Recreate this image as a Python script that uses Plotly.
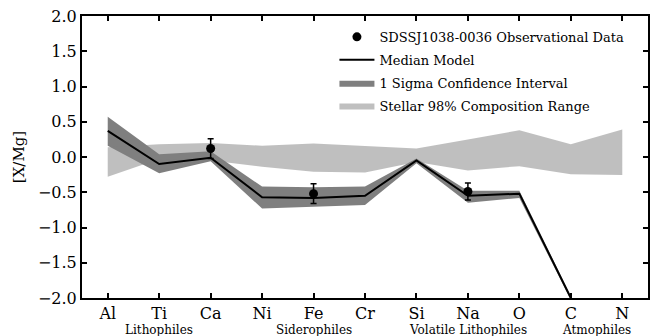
import plotly.graph_objects as go

elements = ["Al", "Ti", "Ca", "Ni", "Fe", "Cr", "Si", "Na", "O", "C", "N"]
groups = ["Lithophiles", "Siderophiles", "Volatile Lithophiles", "Atmophiles"]
group_pos = [1, 4, 7, 9.5]

median = [0.37, -0.10, -0.01, -0.57, -0.58, -0.55, -0.05, -0.55, -0.52, -2.0, None]
sig_hi = [0.57, 0.04, 0.08, -0.42, -0.43, -0.42, -0.02, -0.48, -0.48, -1.97]
sig_lo = [0.16, -0.23, -0.06, -0.73, -0.70, -0.68, -0.09, -0.65, -0.58, -2.03]
star_hi = [0.14, 0.18, 0.20, 0.16, 0.19, 0.16, 0.12, 0.25, 0.38, 0.18, 0.39]
star_lo = [-0.28, -0.03, -0.05, -0.14, -0.21, -0.22, -0.07, -0.19, -0.13, -0.245, -0.255]

obs_el = ["Ca", "Fe", "Na"]
obs_val = [0.12, -0.52, -0.49]
obs_err = [0.14, 0.14, 0.12]

FONT = "DejaVu Serif"
xi = list(range(len(elements)))
xs = xi[:len(sig_hi)]
obs_x = [elements.index(e) for e in obs_el]

fig = go.Figure()
fig.add_trace(go.Scatter(
    x=xs + xs[::-1], y=sig_hi + sig_lo[::-1], fill="toself", mode="lines",
    line=dict(width=0), fillcolor="rgba(0,0,0,0.5)", name="1 Sigma Confidence Interval",
    legendrank=3, legendgroup="c", hoverinfo="skip"))
fig.add_trace(go.Scatter(
    x=xi + xi[::-1], y=star_hi + star_lo[::-1], fill="toself", mode="lines",
    line=dict(width=0), fillcolor="rgba(128,128,128,0.5)", name="Stellar 98% Composition Range",
    legendrank=4, legendgroup="d", hoverinfo="skip"))
fig.add_trace(go.Scatter(
    x=xi, y=median, mode="lines", line=dict(color="black", width=2),
    name="Median Model", legendrank=2, legendgroup="b"))
fig.add_trace(go.Scatter(
    x=obs_x, y=obs_val, mode="markers", marker=dict(color="black", size=9),
    error_y=dict(type="data", array=obs_err, color="black", thickness=1.5, width=3),
    name="SDSSJ1038-0036 Observational Data", legendrank=1, legendgroup="a"))

for g, p in zip(groups, group_pos):
    fig.add_annotation(x=p, y=0, xref="x", yref="paper", yanchor="top", yshift=-23,
                       text=g, showarrow=False, font=dict(family=FONT, size=12, color="black"))

axis_common = dict(showline=True, linecolor="black", linewidth=2, mirror="ticks",
                   ticks="inside", ticklen=5, tickwidth=1.5, tickcolor="black",
                   showgrid=False, zeroline=False,
                   tickfont=dict(family=FONT, size=16, color="black"))
fig.update_xaxes(range=[-0.5, 10.5], tickmode="array", tickvals=xi, ticktext=elements, **axis_common)
fig.update_yaxes(range=[-2.0, 2.0], tickmode="array",
                 tickvals=[-2, -1.5, -1, -0.5, 0, 0.5, 1, 1.5, 2],
                 ticktext=["\u22122.0", "\u22121.5", "\u22121.0", "\u22120.5", "0.0", "0.5", "1.0", "1.5", "2.0"],
                 title=dict(text="[X/Mg]", font=dict(family=FONT, size=15, color="black"), standoff=10),
                 **axis_common)

fig.update_layout(
    width=657, height=336, margin=dict(l=82, r=7, t=16, b=38),
    plot_bgcolor="white", paper_bgcolor="white",
    font=dict(family=FONT, color="black"),
    legend=dict(x=0.446, y=0.979, xanchor="left", yanchor="top", bgcolor="rgba(0,0,0,0)",
                font=dict(family=FONT, size=13, color="black"), tracegroupgap=3,
                itemwidth=35, traceorder="grouped"),
    showlegend=True,
)
fig.write_html("out.html")
